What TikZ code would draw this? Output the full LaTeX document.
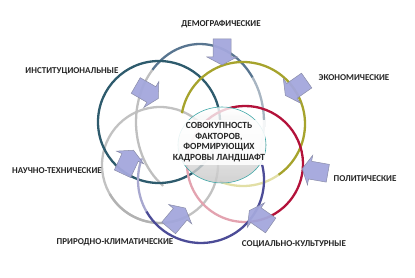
\documentclass[tikz,border=0pt]{standalone}
\usepackage{fontspec}
\setmainfont{Carlito}
\definecolor{instc}{HTML}{2E5B6D}
\definecolor{demc}{HTML}{587590}
\definecolor{demlight}{HTML}{A8B5C2}
\definecolor{natc}{HTML}{C2C2C2}
\definecolor{econc}{HTML}{A6A32C}
\definecolor{econpale}{HTML}{E2DFA6}
\definecolor{polc}{HTML}{B3123A}
\definecolor{polpale}{HTML}{E3A3B0}
\definecolor{socc}{HTML}{4C4C97}
\definecolor{socpale}{HTML}{A8A8CF}
\definecolor{arrowfill}{HTML}{A3A7DC}
\definecolor{arrowedge}{HTML}{8A8CA8}
\definecolor{ellc}{HTML}{40A8A8}
\newcommand\farrow[3]{%
  \begin{scope}[shift={(#1,#2)},rotate=#3]
    \draw[farrowstyle] (-13,-9) -- (5,-9) -- (5,-15) -- (13,0) -- (5,15) -- (5,9) -- (-13,9) -- cycle;
  \end{scope}}
\begin{document}
\begin{tikzpicture}[x=1pt,y=-1pt,
  ring/.style={line width=2.3pt},
  lbl/.style={font=\bfseries\fontsize{9}{10}\selectfont, text=black!85, inner sep=0pt},
  farrowstyle/.style={fill=arrowfill, draw=arrowedge, line width=0.5pt, fill opacity=0.95}]
\useasboundingbox (0,0) rectangle (415,278);
% natural-climatic circle
\draw[ring, natc] (160,165) circle[radius=58];
\draw[ring, black!30] ([shift={(60:58)}]160,165) arc[start angle=60, end angle=150, radius=58];
% demographic ellipse
\draw[ring, natc!90!black!80] ([shift={(125:64 and 78)}]200,122) arc[start angle=125, end angle=222, x radius=64, y radius=78];
\draw[ring, demlight] ([shift={(325:64 and 78)}]200,122) arc[start angle=325, end angle=385, x radius=64, y radius=78];
\draw[ring, demc] ([shift={(222:64 and 78)}]200,122) arc[start angle=222, end angle=325, x radius=64, y radius=78];
% institutional circle
\draw[ring, instc] (159,122) circle[radius=61];
% economic circle
\draw[ring, econpale] ([shift={(415:62)}]243,124) arc[start angle=415, end angle=472, radius=62];
\draw[ring, econc] ([shift={(190:62)}]243,124) arc[start angle=190, end angle=415, radius=62];
% political circle
\draw[ring, polpale] ([shift={(87:58)}]245,164) arc[start angle=87, end angle=190, radius=58];
\draw[ring, polc] ([shift={(190:58)}]245,164) arc[start angle=190, end angle=447, radius=58];
% social-cultural circle
\draw[ring, socpale] ([shift={(150:63)}]201,180) arc[start angle=150, end angle=200, radius=63];
\draw[ring, socc] ([shift={(-15:63)}]201,180) arc[start angle=-15, end angle=150, radius=63];
% block arrows
\farrow{222}{52}{-90}
\farrow{296}{88}{-145}
\farrow{315}{171}{170}
\farrow{260}{218}{145}
\farrow{177}{218}{50}
\farrow{128}{162}{65}
\farrow{147}{92}{-30}
% central ellipse
\draw[draw=ellc, line width=0.6pt, top color=white, bottom color=black!22, fill opacity=0.8] (222,145) ellipse[x radius=44, y radius=38];
\node[fill=white, fill opacity=0.88, text opacity=1, minimum width=83pt, minimum height=45pt, align=center, inner sep=0pt, font=\bfseries\fontsize{9.4}{10.5}\selectfont, text=black!85] (core) at (219,142) {СОВОКУПНОСТЬ\\ФАКТОРОВ,\\ФОРМИРУЮЩИХ\\КАДРОВЫ ЛАНДШАФТ};
% labels
\node[lbl] (dem) at (221,24) {ДЕМОГРАФИЧЕСКИЕ};
\node[lbl] (eco) at (354,78) {ЭКОНОМИЧЕСКИЕ};
\node[lbl] (ins) at (72,71) {ИНСТИТУЦИОНАЛЬНЫЕ};
\node[lbl] (sci) at (57,171) {НАУЧНО-ТЕХНИЧЕСКИЕ};
\node[lbl] (pol) at (365,179) {ПОЛИТИЧЕСКИЕ};
\node[lbl] (nat) at (115,242) {ПРИРОДНО-КЛИМАТИЧЕСКИЕ};
\node[lbl] (soc) at (294,244) {СОЦИАЛЬНО-КУЛЬТУРНЫЕ};
\end{tikzpicture}
\end{document}
